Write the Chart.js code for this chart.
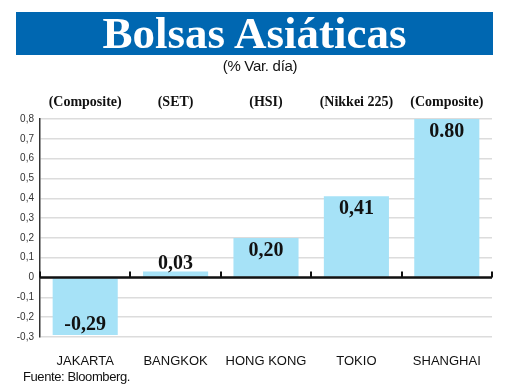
<!DOCTYPE html>
<html>
<head>
<meta charset="utf-8">
<script src="https://cdn.jsdelivr.net/npm/chart.js@4"></script>
<style>
  body { margin: 0; background: #fff; }
  #wrap { position: relative; width: 520px; height: 390px; overflow: hidden; }
  #banner {
    position: absolute; left: 16px; top: 12px; width: 477px; height: 43px;
    background: #0067b1; color: #fff; text-align: center;
    font: bold 45px "Liberation Serif", serif; line-height: 43px;
  }
  #sub {
    position: absolute; left: 0; width: 520px; top: 57px; text-align: center;
    font: 15px "Liberation Sans", sans-serif; color: #111; letter-spacing: -0.3px;
  }
  #src {
    position: absolute; left: 23px; top: 369px;
    font: 13px "Liberation Sans", sans-serif; color: #111; letter-spacing: -0.4px;
  }
  canvas { position: absolute; left: 0; top: 0; }
</style>
</head>
<body>
<div id="wrap">
  <canvas id="chart" width="520" height="390"></canvas>
  <div id="banner">Bolsas Asiáticas</div>
  <div id="sub">(% Var. día)</div>
  <div id="src">Fuente: Bloomberg.</div>
</div>
<script>
// --- Data ---
const cities = ['JAKARTA', 'BANGKOK', 'HONG KONG', 'TOKIO', 'SHANGHAI'];
const indexNames = ['(Composite)', '(SET)', '(HSI)', '(Nikkei 225)', '(Composite)'];
const changes = [-0.29, 0.03, 0.20, 0.41, 0.80];
const valueLabels = ['-0,29', '0,03', '0,20', '0,41', '0.80'];
const yTickLabels = ['-0,3', '-0,2', '-0,1', '0', '0,1', '0,2', '0,3', '0,4', '0,5', '0,6', '0,7', '0,8'];

// zero line with small ticks between categories + value labels
const extras = {
  id: 'extras',
  afterDatasetsDraw(chart) {
    const { ctx, chartArea, scales } = chart;
    const x = scales.x, y = scales.y;
    const y0 = y.getPixelForValue(0);
    ctx.save();
    ctx.strokeStyle = '#111';
    ctx.lineWidth = 2.5;
    ctx.beginPath();
    ctx.moveTo(chartArea.left, y0);
    ctx.lineTo(chartArea.right, y0);
    ctx.stroke();
    ctx.lineWidth = 2;
    for (let i = 0; i <= cities.length; i++) {
      const px = Math.round(x.getPixelForValue(i - 0.5));
      ctx.beginPath();
      ctx.moveTo(px, y0);
      ctx.lineTo(px, y0 - 6);
      ctx.stroke();
    }

    ctx.fillStyle = '#111';
    ctx.font = 'bold 20px "Liberation Serif", serif';
    ctx.textAlign = 'center';
    ctx.textBaseline = 'middle';
    chart.getDatasetMeta(0).data.forEach((bar, i) => {
      const v = changes[i];
      let ty;
      if (v < 0) ty = bar.y - 10;
      else if (v < 0.1) ty = bar.y - 8;
      else ty = bar.y + 13;
      ctx.fillText(valueLabels[i], bar.x, ty);
    });
    ctx.restore();
  }
};

new Chart(document.getElementById('chart'), {
  type: 'bar',
  data: {
    labels: cities,
    datasets: [{
      data: changes,
      backgroundColor: '#a6e2f7',
      borderWidth: 0,
      categoryPercentage: 1,
      barPercentage: 0.72
    }]
  },
  options: {
    responsive: false,
    animation: false,
    layout: { padding: { top: 85, right: 28, bottom: 21, left: 0 } },
    plugins: { legend: { display: false }, tooltip: { enabled: false } },
    scales: {
      x: {
        position: 'bottom',
        grid: { display: false },
        border: { display: false },
        ticks: { color: '#111', font: { family: '"Liberation Sans", sans-serif', size: 13 }, padding: 9 },
        afterFit(s) { s.height = 32; }
      },
      x2: {
        type: 'category',
        labels: indexNames,
        position: 'top',
        grid: { display: false },
        border: { display: false },
        ticks: { color: '#111', font: { family: '"Liberation Serif", serif', size: 14, weight: 'bold' }, padding: 0 },
        afterFit(s) { s.height = 34; }
      },
      y: {
        min: -0.3,
        max: 0.8,
        ticks: {
          stepSize: 0.1,
          color: '#333',
          font: { family: '"Liberation Sans", sans-serif', size: 10 },
          padding: 6,
          callback: (v, i) => yTickLabels[i]
        },
        grid: { color: '#dcdcdc', lineWidth: 1.5, drawTicks: false },
        border: { display: true, color: '#333', width: 1.5 },
        afterFit(s) { s.width = 40; }
      }
    }
  },
  plugins: [extras]
});
</script>
</body>
</html>
